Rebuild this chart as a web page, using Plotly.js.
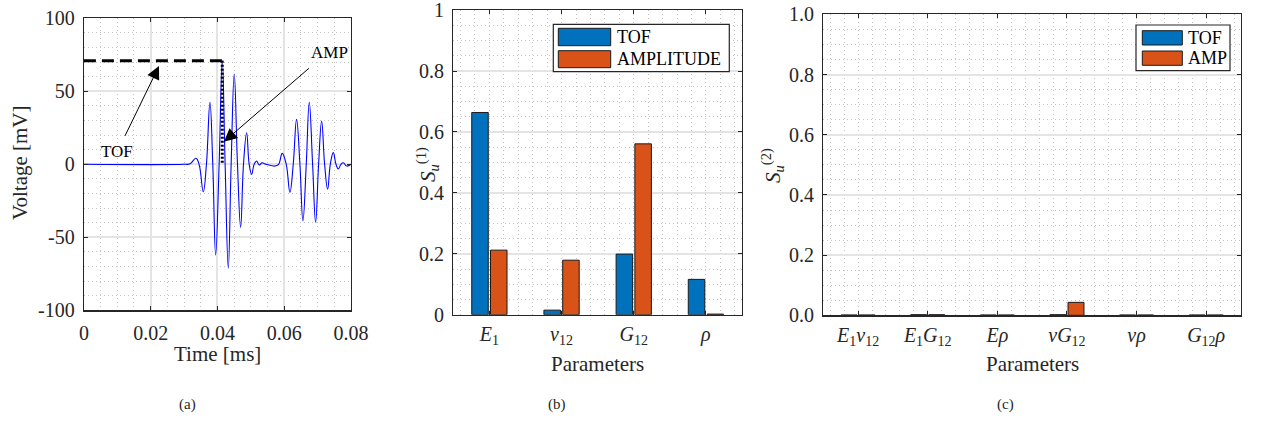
<!DOCTYPE html>
<html>
<head>
<meta charset="utf-8">
<script src="https://cdn.plot.ly/plotly-3.0.1.min.js"></script>
<style>html,body{margin:0;padding:0;background:#fff;}#chart{width:1263px;height:421px;}</style>
</head>
<body>
<div id="chart"></div>
<script>
// ---------- Panel (a): received signal ----------
const timeMs = [0, 0.0300, 0.0318, 0.03356, 0.0345, 0.03575, 0.0367, 0.03775, 0.0386, 0.03946, 0.0405, 0.04144, 0.0423, 0.04324, 0.0441, 0.04503, 0.0460, 0.04694, 0.0478, 0.04874, 0.0495, 0.05024, 0.0510, 0.05173, 0.0525, 0.0533, 0.0545, 0.0560, 0.0572, 0.0583, 0.0594, 0.0606, 0.0617, 0.0627, 0.0637, 0.0647, 0.0656, 0.0666, 0.0675, 0.0685, 0.0694, 0.0703, 0.0712, 0.0721, 0.0730, 0.0738, 0.0747, 0.0755, 0.0762, 0.0770, 0.0777, 0.0787, 0.0800];
const voltage = [0, 0, 0.3, 4.1, 0, -18.8, 0, 42.5, 0, -62.1, 0, 71, 0, -71.2, 0, 61.8, 0, -43.2, 0, 21.6, 0, -6.9, 0, 2.3, -0.5, 1.0, 0, -0.8, -1.2, 0, 7.5, 0, -19.2, 0, 30.8, 0, -38.8, 0, 42.5, 0, -39.7, 0, 29.7, 0, -17.1, 0, 8.0, 0, -3.2, 0, 1.1, -1.2, 0];
const tofMarkX = [0, 0.0414];
const tofMarkY = [71, 71];
const ampMarkX = [0.04144, 0.04144];
const ampMarkY = [71, 0];
const timeTicks = [0, 0.02, 0.04, 0.06, 0.08];
const timeTickText = ['0', '0.02', '0.04', '0.06', '0.08'];
const voltTicks = [-100, -50, 0, 50, 100];
const voltTickText = ['-100', '-50', '0', '50', '100'];

// ---------- Panel (b): first-order indices ----------
const params1 = ['<i>E</i><sub>1</sub>', '<i>ν</i><sub>12</sub>', '<i>G</i><sub>12</sub>', '<i>ρ</i>'];
const s1Tof = [0.664, 0.015, 0.199, 0.116];
const s1Amp = [0.212, 0.179, 0.561, 0.002];
const s1Ticks = [0, 0.2, 0.4, 0.6, 0.8, 1];
const s1TickText = ['0', '0.2', '0.4', '0.6', '0.8', '1'];

// ---------- Panel (c): second-order indices ----------
const params2 = ['<i>E</i><sub>1</sub><i>ν</i><sub>12</sub>', '<i>E</i><sub>1</sub><i>G</i><sub>12</sub>', '<i>Eρ</i>', '<i>νG</i><sub>12</sub>', '<i>νρ</i>', '<i>G</i><sub>12</sub><i>ρ</i>'];
const s2Tof = [0.001, 0.002, 0.001, 0.002, 0.001, 0.001];
const s2Amp = [0.001, 0.002, 0.001, 0.043, 0.001, 0.001];
const s2Ticks = [0, 0.2, 0.4, 0.6, 0.8, 1.0];
const s2TickText = ['0.0', '0.2', '0.4', '0.6', '0.8', '1.0'];

const idx1 = params1.map((_, i) => i + 1);
const idx2 = params2.map((_, i) => i + 1);

const W = 1263, H = 421;
const px = v => v / W;
const py = v => 1 - v / H;

const FONT = '"Liberation Serif", "Times New Roman", serif';
const BLUE = '#0072BD', ORANGE = '#D95319';
const AX = '#262626';
const GRID = '#e4e4e4';
const MINOR = '#c4c4c4';

// minor grid positions (layout only), skipping the major ones
function minorVals(lo, hi, step, major) {
  const out = [];
  const n = Math.round((hi - lo) / step);
  for (let k = 0; k <= n; k++) {
    const v = lo + k * step;
    const r = v / major;
    if (Math.abs(r - Math.round(r)) > 1e-6) out.push(+v.toFixed(6));
  }
  return out;
}
const minorGrid = vals => ({tickvals: vals, showgrid: true, gridcolor: MINOR, griddash: '1px,3px', gridwidth: 1, ticks: ''});

function baseAxis(extra) {
  return Object.assign({
    showline: true, linecolor: AX, linewidth: 1.2, mirror: 'ticks',
    ticks: 'inside', ticklen: 4, tickcolor: AX, tickwidth: 1,
    showgrid: true, gridcolor: GRID, gridwidth: 2, zeroline: false,
    tickfont: {family: FONT, size: 20, color: AX},
    ticklabeloverflow: 'allow',
    fixedrange: true
  }, extra);
}

const traces = [
  {x: timeMs, y: voltage, type: 'scatter', mode: 'lines', line: {color: '#0000FF', width: 1.1, shape: 'spline', smoothing: 1.2}, xaxis: 'x', yaxis: 'y', showlegend: false, hoverinfo: 'skip'},
  {x: tofMarkX, y: tofMarkY, type: 'scatter', mode: 'lines', line: {color: '#000', width: 3, dash: '12px,6px'}, xaxis: 'x', yaxis: 'y', showlegend: false},
  {x: ampMarkX, y: ampMarkY, type: 'scatter', mode: 'lines', line: {color: '#000', width: 3, dash: '2px,2px'}, xaxis: 'x', yaxis: 'y', showlegend: false},
  {x: idx1, y: s1Tof, type: 'bar', name: 'TOF', marker: {color: BLUE, line: {color: '#1a1a1a', width: 1}}, xaxis: 'x2', yaxis: 'y2', showlegend: false},
  {x: idx1, y: s1Amp, type: 'bar', name: 'AMPLITUDE', marker: {color: ORANGE, line: {color: '#1a1a1a', width: 1}}, xaxis: 'x2', yaxis: 'y2', showlegend: false},
  {x: idx2, y: s2Tof, type: 'bar', name: 'TOF', marker: {color: BLUE, line: {color: '#1a1a1a', width: 1}}, xaxis: 'x3', yaxis: 'y3', showlegend: false},
  {x: idx2, y: s2Amp, type: 'bar', name: 'AMP', marker: {color: ORANGE, line: {color: '#1a1a1a', width: 1}}, xaxis: 'x3', yaxis: 'y3', showlegend: false}
];

const titleFont = {family: FONT, size: 21, color: AX};
const annText = (x, y, text, opts) => Object.assign({xref: 'paper', yref: 'paper', x: px(x), y: py(y), text, showarrow: false, font: titleFont, xanchor: 'center', yanchor: 'middle'}, opts || {});

const annotations = [
  annText(20, 163, 'Voltage [mV]', {textangle: -90}),
  annText(217, 354, 'Time [ms]'),
  annText(597, 364, 'Parameters'),
  annText(1032, 364, 'Parameters'),
  annText(427, 165, '<i>S</i><sub><i>u</i></sub><sup>(1)</sup>', {textangle: -90}),
  annText(772, 166, '<i>S</i><sub><i>u</i></sub><sup>(2)</sup>', {textangle: -90}),
  annText(187, 404, '(a)', {font: {family: FONT, size: 15, color: AX}}),
  annText(557, 404, '(b)', {font: {family: FONT, size: 15, color: AX}}),
  annText(1005, 404, '(c)', {font: {family: FONT, size: 15, color: AX}}),
  // arrows in panel (a)
  {xref: 'x', yref: 'y', x: 0.02249, y: 67.3, ax: -37, ay: 76, text: ' ', showarrow: true, arrowhead: 2, arrowsize: 2.6, arrowwidth: 1, arrowcolor: '#000'},
  {xref: 'x', yref: 'y', x: 0.04195, y: 15.5, ax: 88, ay: -76, text: ' ', showarrow: true, arrowhead: 2, arrowsize: 2.6, arrowwidth: 1, arrowcolor: '#000'},
  {xref: 'x', yref: 'y', x: 0.0099, y: 9.1, text: 'TOF', showarrow: false, font: {family: FONT, size: 17, color: '#000'}},
  {xref: 'x', yref: 'y', x: 0.0737, y: 76.9, text: 'AMP', showarrow: false, font: {family: FONT, size: 17, color: '#000'}},
  // legend texts
  {xref: 'paper', yref: 'paper', x: px(615), y: py(37), text: 'TOF', showarrow: false, xanchor: 'left', yanchor: 'middle', font: {family: FONT, size: 18, color: '#000'}},
  {xref: 'paper', yref: 'paper', x: px(615), y: py(59), text: 'AMPLITUDE', showarrow: false, xanchor: 'left', yanchor: 'middle', font: {family: FONT, size: 18, color: '#000'}},
  {xref: 'paper', yref: 'paper', x: px(1186), y: py(38), text: 'TOF', showarrow: false, xanchor: 'left', yanchor: 'middle', font: {family: FONT, size: 18, color: '#000'}},
  {xref: 'paper', yref: 'paper', x: px(1186), y: py(58), text: 'AMP', showarrow: false, xanchor: 'left', yanchor: 'middle', font: {family: FONT, size: 18, color: '#000'}}
];

const rect = (x0, y0, x1, y1, fill, lw, lc) => ({type: 'rect', xref: 'paper', yref: 'paper', x0: px(x0), x1: px(x1), y0: py(y1), y1: py(y0), fillcolor: fill, line: {color: lc || '#262626', width: lw}, layer: 'above'});

const shapes = [
  rect(553.3, 24.3, 729.3, 71.7, '#fff', 1.2),
  rect(558.3, 28.3, 610.7, 45.7, BLUE, 1, '#1a1a1a'),
  rect(558.3, 50.7, 610.7, 67.7, ORANGE, 1, '#1a1a1a'),
  rect(1136, 25, 1230, 70.7, '#fff', 1.2),
  rect(1142.3, 30.7, 1182.3, 45, BLUE, 1, '#1a1a1a'),
  rect(1142.3, 51, 1182.3, 65.3, ORANGE, 1, '#1a1a1a')
];

const layout = {
  width: W, height: H,
  margin: {l: 0, r: 0, t: 0, b: 0},
  paper_bgcolor: '#fff', plot_bgcolor: '#fff',
  font: {family: FONT, color: AX},
  barmode: 'group', bargap: 0.48, bargroupgap: 0.12,
  showlegend: false,
  xaxis: baseAxis({domain: [px(83.9), px(351)], range: [0, 0.08], tickvals: timeTicks, ticktext: timeTickText, anchor: 'y', ticklabelstandoff: 4,
    minor: minorGrid(minorVals(0, 0.08, 0.005, 0.02))}),
  yaxis: baseAxis({domain: [py(310.3), py(18.3)], range: [-100, 100], tickvals: voltTicks, ticktext: voltTickText, anchor: 'x', ticklabelstandoff: 4,
    minor: minorGrid(minorVals(-100, 100, 10, 50))}),
  xaxis2: baseAxis({domain: [px(453.3), px(742)], range: [0.5, 4.5], tickvals: idx1, ticktext: params1, anchor: 'y2', showgrid: false, ticklabelstandoff: 1,
    minor: minorGrid(minorVals(0.6, 4.4, 0.2, 100))}),
  yaxis2: baseAxis({domain: [py(314.7), py(10)], range: [0, 1.0005], tickvals: s1Ticks, ticktext: s1TickText, anchor: 'x2', ticklabelstandoff: 4,
    minor: minorGrid(minorVals(0, 1, 0.05, 0.2))}),
  xaxis3: baseAxis({domain: [px(823.3), px(1241)], range: [0.5, 6.5], tickvals: idx2, ticktext: params2, anchor: 'y3', showgrid: false, ticklabelstandoff: 1,
    minor: minorGrid(minorVals(0.6, 6.4, 0.2, 100))}),
  yaxis3: baseAxis({domain: [py(315.3), py(14.3)], range: [0, 1.0005], tickvals: s2Ticks, ticktext: s2TickText, anchor: 'x3', ticklabelstandoff: 4,
    minor: minorGrid(minorVals(0, 1, 0.05, 0.2))}),
  annotations, shapes
};

Plotly.newPlot('chart', traces, layout, {staticPlot: true, displayModeBar: false});
</script>
</body>
</html>
